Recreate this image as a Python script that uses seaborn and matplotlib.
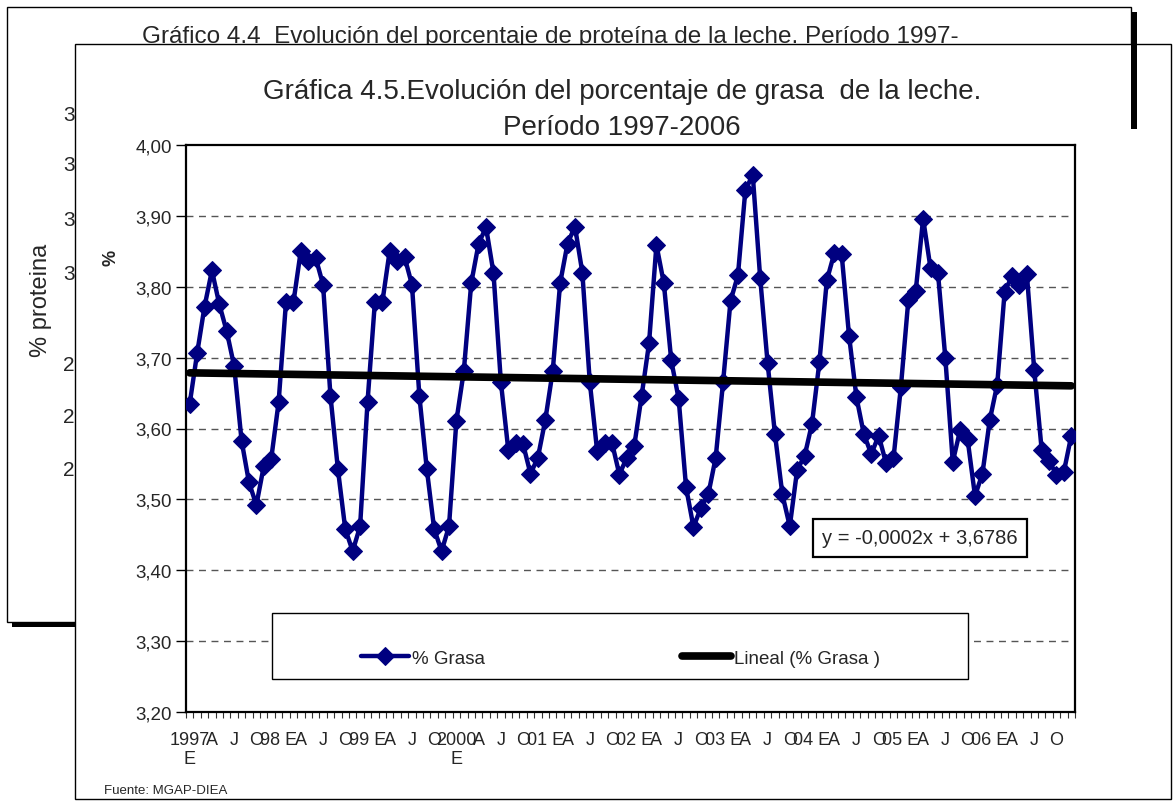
"""Gráfica 4.5: evolución mensual del % de grasa de la leche, 1997-2006."""
import matplotlib
matplotlib.use("Agg")
import matplotlib.pyplot as plt
from matplotlib.patches import Rectangle
import numpy as np
import pandas as pd
import seaborn as sns

# monthly % fat, Jan 1997 .. Dec 2006
grasa_1997 = [3.635, 3.706, 3.772, 3.823, 3.775, 3.737, 3.688, 3.583, 3.524, 3.492, 3.547, 3.557]
grasa_1998 = [3.637, 3.779, 3.778, 3.851, 3.837, 3.841, 3.803, 3.646, 3.543, 3.458, 3.427, 3.462]
grasa_1999 = [3.637, 3.779, 3.778, 3.851, 3.837, 3.842, 3.803, 3.646, 3.543, 3.458, 3.427, 3.462]
grasa_2000 = [3.611, 3.681, 3.805, 3.861, 3.884, 3.820, 3.666, 3.570, 3.580, 3.578, 3.536, 3.559]
grasa_2001 = [3.612, 3.681, 3.805, 3.861, 3.885, 3.820, 3.666, 3.568, 3.579, 3.580, 3.535, 3.559]
grasa_2002 = [3.575, 3.646, 3.720, 3.859, 3.805, 3.696, 3.642, 3.517, 3.461, 3.488, 3.507, 3.559]
grasa_2003 = [3.666, 3.780, 3.816, 3.936, 3.958, 3.813, 3.693, 3.592, 3.507, 3.462, 3.542, 3.561]
grasa_2004 = [3.607, 3.694, 3.809, 3.847, 3.846, 3.731, 3.644, 3.592, 3.564, 3.590, 3.551, 3.558]
grasa_2005 = [3.659, 3.781, 3.794, 3.896, 3.826, 3.820, 3.699, 3.553, 3.598, 3.585, 3.505, 3.536]
grasa_2006 = [3.612, 3.662, 3.793, 3.815, 3.802, 3.818, 3.682, 3.570, 3.554, 3.535, 3.539, 3.590]

anios = ["1997\nE", "98 E", "99 E", "2000\nE", "01 E", "02 E", "03 E", "04 E", "05 E", "06 E"]
meses_etiqueta = ["A", "J", "O"]  # abril, julio, octubre
y_ticks = [3.2, 3.3, 3.4, 3.5, 3.6, 3.7, 3.8, 3.9, 4.0]

# remnants of the chart behind (Gráfico 4.4)
back_tick_labels = ["3,40", "3,30", "3,20", "3,10", "2,90", "2,80", "2,70"]

grasa = (grasa_1997 + grasa_1998 + grasa_1999 + grasa_2000 + grasa_2001
         + grasa_2002 + grasa_2003 + grasa_2004 + grasa_2005 + grasa_2006)
df = pd.DataFrame({"mes": np.arange(len(grasa)), "grasa": grasa})
pend, orden = np.polyfit(df["mes"] + 1, df["grasa"], 1)
df["tendencia"] = orden + pend * (df["mes"] + 1)

sns.set_theme(style="white")
plt.rcParams["font.family"] = ["Liberation Sans", "DejaVu Sans"]

W, H = 1174, 803
fig = plt.figure(figsize=(W / 100, H / 100), dpi=100)

# background canvas in pixel coords (y down)
bg = fig.add_axes([0, 0, 1, 1], zorder=-1)
bg.set_xlim(0, W)
bg.set_ylim(H, 0)
bg.axis("off")

# chart behind
bg.add_patch(Rectangle((12, 13), 1125, 615, fc="black", ec="none", zorder=1))
bg.add_patch(Rectangle((7, 8), 1124, 615, fc="white", ec="black", lw=1, zorder=2))
bg.text(550, 37, "Gráfico 4.4  Evolución del porcentaje de proteína de la leche. Período 1997-",
        ha="center", va="center", fontsize=17.5, zorder=3)
bg.text(41, 300, "% proteina", rotation=90, ha="center", va="center", fontsize=17, zorder=3)
for lab, yy in zip(back_tick_labels, [115, 165, 220, 274, 365, 417, 470]):
    bg.text(104, yy, lab, ha="right", va="center", fontsize=15, zorder=3)

# front chart frame
bg.add_patch(Rectangle((75, 45), 1096, 755, fc="white", ec="black", lw=1, zorder=5))
# shadow bar of the back chart that shows through on the right
bg.add_patch(Rectangle((1131, 13), 6, 117, fc="black", ec="none", zorder=5.5))
bg.text(622, 92, "Gráfica 4.5.Evolución del porcentaje de grasa  de la leche.",
        ha="center", va="center", fontsize=20, zorder=6)
bg.text(622, 128, "Período 1997-2006", ha="center", va="center", fontsize=20, zorder=6)
bg.text(111, 258, "%", rotation=90, ha="center", va="center", fontsize=13,
        fontweight="bold", zorder=6)
bg.text(104, 791, "Fuente: MGAP-DIEA", ha="left", va="center", fontsize=9.5, zorder=6)

# plot area
x0, x1, ytop, ybot = 186, 1075, 146, 713
ax = fig.add_axes([x0 / W, (H - ybot) / H, (x1 - x0) / W, (ybot - ytop) / H])
ax.set_facecolor("white")


def ax_x(px):
    return (px - x0) / (x1 - x0)


def ax_y(py):
    return (ybot - py) / (ybot - ytop)


sns.lineplot(data=df, x="mes", y="grasa", ax=ax, color="#000080", lw=3.2,
             marker="D", markersize=9, markeredgecolor="#000080", label="% Grasa",
             zorder=3)
sns.lineplot(data=df, x="mes", y="tendencia", ax=ax, color="black", lw=5.5,
             label="Lineal (% Grasa )", zorder=4)

ax.set_xlim(-0.5, len(grasa) - 0.5)
ax.set_ylim(3.2, 4.0)
ax.set_yticks(y_ticks)
ax.set_yticklabels([f"{v:.2f}".replace(".", ",") for v in y_ticks], fontsize=13.5)
for v in y_ticks[1:-1]:
    ax.axhline(v, color="#555555", lw=1, ls=(0, (5, 4)), zorder=1)

xt = np.arange(0, len(grasa), 3)
xl = []
for i in xt:
    if i % 12 == 0:
        xl.append(anios[i // 12])
    else:
        xl.append(meses_etiqueta[(i % 12) // 3 - 1])
ax.set_xticks(xt)
ax.set_xticklabels(xl, fontsize=13, linespacing=1.15)
ax.set_xticks(np.arange(-0.5, len(grasa), 1), minor=True)
ax.tick_params(axis="x", which="major", length=0, pad=14)
ax.tick_params(axis="x", which="minor", length=4, width=0.8, color="#333333", direction="out",
               bottom=True)
ax.tick_params(axis="y", which="major", length=7, width=1, color="black", direction="out",
               left=True, pad=3)
ax.set_xlabel("")
ax.set_ylabel("")
for s in ax.spines.values():
    s.set_visible(True)
    s.set_color("black")
    s.set_linewidth(1.6)

ax.text(ax_x(920), ax_y(539), "y = -0,0002x + 3,6786",
        transform=ax.transAxes, ha="center", va="center", fontsize=14.5, zorder=6,
        bbox=dict(boxstyle="square,pad=0.45", fc="white", ec="black", lw=1.6))

# legend: white box, entries placed inside
lx0, lx1, ly0, ly1 = 272, 968, 614, 680
ax.add_patch(Rectangle((ax_x(lx0), ax_y(ly1)), ax_x(lx1) - ax_x(lx0), ax_y(ly0) - ax_y(ly1),
                       transform=ax.transAxes, fc="white", ec="black", lw=1, zorder=6))
leg = ax.legend(loc="center", ncol=2, bbox_to_anchor=(ax_x(620), ax_y(659)),
                frameon=False, fontsize=13.5, handlelength=2.6, handletextpad=0.15,
                columnspacing=10.5, borderaxespad=0, borderpad=0)
leg.set_zorder(7)

fig.savefig("out.png", dpi=100)
plt.close(fig)
